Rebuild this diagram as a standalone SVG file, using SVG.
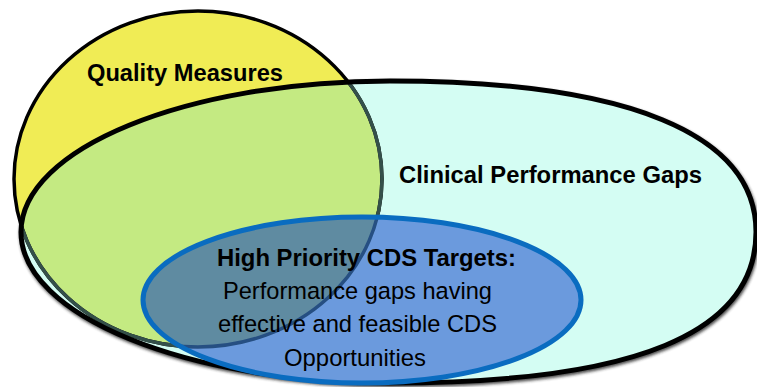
<svg xmlns="http://www.w3.org/2000/svg" width="757" height="387" viewBox="0 0 757 387">
  <defs>
    <path id="cyanShape" d="M21,232 C21,148.6 186.2,81 390,81 C627.9,81 756,133.9 756,232 C756,333.2 635.2,383 390,383 C186.2,383 21,315.4 21,232 Z"/>
    <clipPath id="clipCyan"><use href="#cyanShape"/></clipPath>
    <clipPath id="clipBlue"><ellipse cx="362" cy="300" rx="219" ry="83"/></clipPath>
    <filter id="blur" x="-10%" y="-10%" width="120%" height="130%"><feGaussianBlur stdDeviation="1.5"/></filter>
    <style>
      .lbl { font-family: "Liberation Sans", Arial, Helvetica, sans-serif; font-size: 23.7px; fill: #000; }
      .b { font-weight: bold; }
    </style>
  </defs>
  <rect width="757" height="387" fill="#ffffff"/>

  <g id="clinical-performance-gaps">
    <use href="#cyanShape" transform="translate(1,2)" fill="none" stroke="#222" stroke-width="5" filter="url(#blur)" opacity="0.8"/>
    <use href="#cyanShape" fill="#d4fdf3"/>
  </g>

  <g id="quality-measures">
    <ellipse cx="198" cy="179" rx="184" ry="168" fill="#f0ec55"/>
    <ellipse cx="198" cy="179" rx="184" ry="168" fill="#c4ea82" clip-path="url(#clipCyan)"/>
    <ellipse cx="198" cy="179" rx="184" ry="168" fill="none" stroke="#000" stroke-width="3.5"/>
    <ellipse cx="198" cy="179" rx="184" ry="168" fill="none" stroke="#34504a" stroke-width="3.5" clip-path="url(#clipCyan)"/>
    <text class="lbl b" x="87" y="81" textLength="196" lengthAdjust="spacingAndGlyphs">Quality Measures</text>
  </g>

  <g id="clinical-performance-gaps-outline">
    <use href="#cyanShape" fill="none" stroke="#000" stroke-width="5"/>
    <text class="lbl b" x="399" y="183" textLength="303" lengthAdjust="spacingAndGlyphs">Clinical Performance Gaps</text>
  </g>

  <g id="high-priority-cds-targets">
    <ellipse cx="362" cy="300" rx="219" ry="83" fill="#6b9add"/>
    <ellipse cx="198" cy="179" rx="184" ry="168" fill="#5f8ba1" clip-path="url(#clipBlue)"/>
    <ellipse cx="198" cy="179" rx="184" ry="168" fill="none" stroke="#264f82" stroke-width="3.5" clip-path="url(#clipBlue)"/>
    <ellipse cx="362" cy="300" rx="219" ry="83" fill="none" stroke="#0a6cc0" stroke-width="5"/>
    <text class="lbl b" x="217" y="266" textLength="299" lengthAdjust="spacingAndGlyphs">High Priority CDS Targets:</text>
    <text class="lbl" x="223" y="299" textLength="269" lengthAdjust="spacingAndGlyphs">Performance gaps having</text>
    <text class="lbl" x="218" y="332" textLength="279" lengthAdjust="spacingAndGlyphs">effective and feasible CDS</text>
    <text class="lbl" x="284" y="366" textLength="142" lengthAdjust="spacingAndGlyphs">Opportunities</text>
  </g>
</svg>
